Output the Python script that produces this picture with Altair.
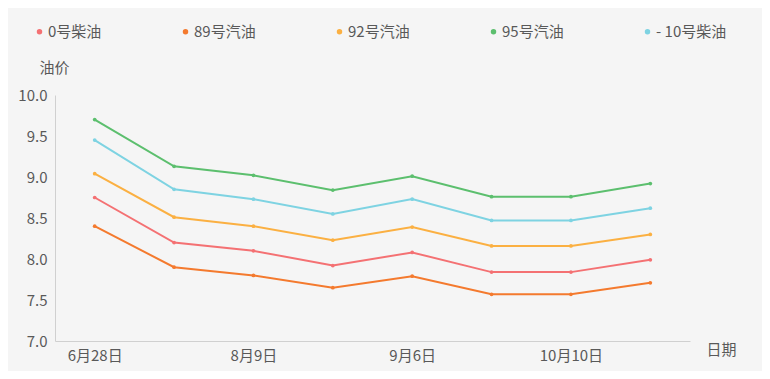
import altair as alt
import pandas as pd

dates = ["6月28日", "7月12日", "8月9日", "8月23日", "9月6日", "9月20日", "10月10日", "10月24日"]
shown_dates = ["6月28日", "8月9日", "9月6日", "10月10日"]
series = ["0号柴油", "89号汽油", "92号汽油", "95号汽油", "- 10号柴油"]
colors = ["#f47173", "#f47a2e", "#fbb042", "#5cbf6e", "#7ed3e2"]

diesel_0 = [8.75, 8.20, 8.10, 7.92, 8.08, 7.84, 7.84, 7.99]
gas_89 = [8.40, 7.90, 7.80, 7.65, 7.79, 7.57, 7.57, 7.71]
gas_92 = [9.04, 8.51, 8.40, 8.23, 8.39, 8.16, 8.16, 8.30]
gas_95 = [9.70, 9.13, 9.02, 8.84, 9.01, 8.76, 8.76, 8.92]
diesel_m10 = [9.45, 8.85, 8.73, 8.55, 8.73, 8.47, 8.47, 8.62]

y_ticks = [7.0, 7.5, 8.0, 8.5, 9.0, 9.5, 10.0]

values = [diesel_0, gas_89, gas_92, gas_95, diesel_m10]
rows = []
for name, vals in zip(series, values):
    for d, v in zip(dates, vals):
        rows.append({"日期": d, "油价": v, "品种": name})
df = pd.DataFrame(rows)

FONT = "Noto Sans CJK SC"
TXT = "#595959"

x = alt.X(
    "日期:N",
    sort=dates,
    scale=alt.Scale(domain=dates, paddingInner=0, paddingOuter=0),
    axis=alt.Axis(
        values=shown_dates,
        title="日期",
        titleX=666,
        titleY=8,
        titleAlign="center",
        titleBaseline="middle",
        titleFontWeight="normal",
        titleFontSize=15,
        titleColor=TXT,
        titleFont=FONT,
        labelAngle=0,
        labelFontSize=15,
        labelColor=TXT,
        labelFont=FONT,
        labelPadding=7,
        ticks=False,
        grid=False,
        domainColor="#d0d0d0",
        bandPosition=0.5,
    ),
)
y = alt.Y(
    "油价:Q",
    scale=alt.Scale(domain=[7, 10], nice=False, zero=False),
    axis=alt.Axis(
        values=y_ticks,
        format=".1f",
        title="油价",
        titleAngle=0,
        titleX=-1,
        titleY=-28,
        titleAlign="center",
        titleBaseline="middle",
        titleFontWeight="normal",
        titleFontSize=15,
        titleColor=TXT,
        titleFont=FONT,
        labelFontSize=15,
        labelColor=TXT,
        labelFont=FONT,
        labelPadding=8,
        ticks=False,
        grid=False,
        domainColor="#d0d0d0",
    ),
)
color = alt.Color(
    "品种:N",
    sort=series,
    scale=alt.Scale(domain=series, range=colors),
    legend=alt.Legend(
        title=None,
        orient="none",
        legendX=-23,
        legendY=-71,
        direction="horizontal",
        columns=5,
        columnPadding=76,
        symbolType="circle",
        symbolSize=30,
        symbolStrokeWidth=0,
        labelOffset=1,
        labelFontSize=15,
        labelColor=TXT,
        labelFont=FONT,
    ),
)

base = alt.Chart(df).encode(x=x, y=y, color=color)
lines = base.mark_line(strokeWidth=2)
points = base.mark_circle(size=14, opacity=1)

chart = (
    alt.layer(lines, points)
    .properties(
        width=635,
        height=246,
        background="#f5f5f5",
        padding={"left": 47, "top": 87, "right": 72, "bottom": 30},
        autosize=alt.AutoSizeParams(type="none"),
    )
    .configure_view(stroke=None)
)

chart.save("out.html", embed_options={"renderer": "svg", "actions": False})
